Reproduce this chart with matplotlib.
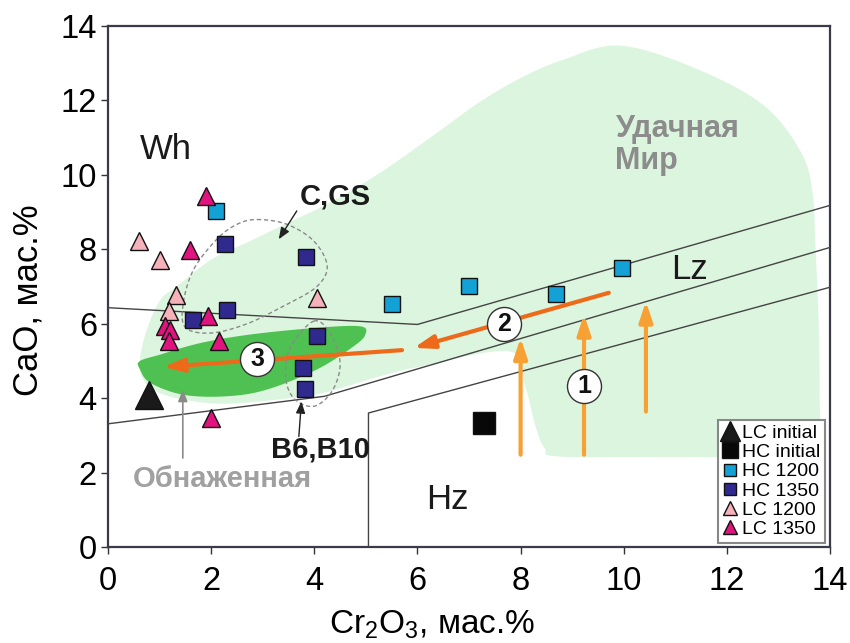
import numpy as np
import matplotlib
matplotlib.use("Agg")
import matplotlib.pyplot as plt
from matplotlib.lines import Line2D
from matplotlib.patches import Polygon

plt.rcParams['font.family'] = ['Liberation Sans', 'DejaVu Sans']
plt.rcParams['mathtext.fontset'] = 'custom'
plt.rcParams['mathtext.rm'] = 'Liberation Sans'
plt.rcParams['mathtext.it'] = 'Liberation Sans:italic'

# ===================== данные (Cr2O3, CaO, мас.%) =====================
hc1200_x = [2.10, 5.50, 7.00, 8.68, 9.97]
hc1200_y = [9.03, 6.52, 7.01, 6.79, 7.50]

hc1350_x = [2.27, 3.84, 2.30, 1.64, 4.05, 3.79, 3.81]
hc1350_y = [8.13, 7.80, 6.38, 6.09, 5.66, 4.80, 4.25]

lc1200_x = [0.61, 1.00, 1.32, 4.06, 1.18]
lc1200_y = [8.22, 7.71, 6.77, 6.70, 6.34]

lc1350_x = [1.90, 1.58, 1.93, 1.10, 1.21, 1.19, 2.15, 1.99]
lc1350_y = [9.43, 7.97, 6.20, 5.93, 5.82, 5.54, 5.54, 3.46]

lc_init = (0.80, 4.08)
hc_init = (7.29, 3.33)

# поля гранатов (контуры)
field_udachnaya = [(1.33, 7.0), (2.0, 7.72), (2.8, 8.25), (3.5, 8.72), (4.3, 9.25),
                   (5.28, 10.06), (6.3, 11.05), (7.2, 11.95), (8.0, 12.6), (8.84, 13.1),
                   (9.94, 13.47), (11.43, 12.84), (12.72, 11.86), (13.44, 10.6),
                   (13.66, 9.52), (13.72, 8.0), (13.78, 6.0), (13.8, 4.0), (13.78, 2.7),
                   (13.55, 2.42), (11.0, 2.42), (8.75, 2.43), (8.47, 2.65), (8.29, 3.24),
                   (8.07, 4.41), (7.77, 5.26), (6.06, 4.85), (5.28, 4.59), (4.2, 4.15),
                   (3.4, 3.98), (2.3, 3.85), (1.5, 3.95), (0.9, 4.2), (0.65, 4.6),
                   (0.62, 5.03), (0.7, 5.6), (0.85, 6.2), (1.05, 6.7)]
field_obnazhennaya = [(0.61, 4.99), (1.01, 5.17), (1.79, 5.48), (2.76, 5.71), (4.05, 5.89),
                      (4.89, 5.93), (4.99, 5.71), (4.76, 5.39), (4.05, 4.77), (3.08, 4.23),
                      (2.3, 4.05), (1.46, 4.09), (0.82, 4.41), (0.62, 4.77)]
ell_cgs = [(2.89, 8.80), (3.47, 8.67), (3.99, 8.22), (4.25, 7.55), (4.05, 7.0),
           (3.47, 6.52), (2.7, 6.0), (2.0, 5.75), (1.5, 5.9), (1.46, 6.56),
           (1.66, 7.46), (2.11, 8.27), (2.50, 8.67)]
ell_b6 = [(3.99, 6.07), (4.3, 5.75), (4.5, 4.95), (4.35, 4.2), (3.99, 3.78),
          (3.6, 4.0), (3.44, 4.6), (3.55, 5.4)]

# границы полей Wh / Lz / Hz
line_wh = ([0, 6.0, 14], [6.43, 5.98, 9.18])
line_lz = ([0, 4.2, 14], [3.31, 4.05, 8.05])
line_hz = ([5.05, 5.05, 14], [0, 3.6, 6.98])

# тренды (стрелки)
trend1_x = [8.0, 9.23, 10.43]
trend1_y0 = [2.48, 2.48, 3.64]
trend1_y1 = [5.62, 6.25, 6.60]
trend2 = [(9.71, 6.83), (5.93, 5.35)]
trend3 = [(5.70, 5.29), (1.07, 4.84)]
marks = [("1", 9.23, 4.33), ("2", 7.68, 5.98), ("3", 2.89, 5.04)]


def smooth_closed(pts, n=16):
    # замкнутый сплайн Катмулла-Рома по опорным точкам
    p = np.asarray(pts, float)
    N = len(p)
    out = []
    for i in range(N):
        p0, p1, p2, p3 = p[i - 1], p[i], p[(i + 1) % N], p[(i + 2) % N]
        for t in np.linspace(0, 1, n, endpoint=False):
            out.append(0.5 * (2 * p1 + (-p0 + p2) * t
                              + (2 * p0 - 5 * p1 + 4 * p2 - p3) * t ** 2
                              + (-p0 + 3 * p1 - 3 * p2 + p3) * t ** 3))
    return np.array(out)


fig = plt.figure(figsize=(8.5, 6.43), dpi=100)
ax = fig.add_axes([0.1271, 0.1493, 0.8494, 0.8103])

ax.add_patch(Polygon(smooth_closed(field_udachnaya), closed=True, fc="#DCF5DE", ec="none", zorder=1))
ax.add_patch(Polygon(smooth_closed(field_obnazhennaya), closed=True, fc="#4FC152", ec="none", zorder=2))

for lx, ly in (line_wh, line_lz, line_hz):
    ax.plot(lx, ly, color="#444444", lw=1.0, zorder=3)

for e in (ell_cgs, ell_b6):
    s = smooth_closed(e)
    s = np.vstack([s, s[:1]])
    ax.plot(s[:, 0], s[:, 1], color="#8a8a8a", lw=1.0, ls=(0, (3, 2)), zorder=3)


def arrow(x0, y0, x1, y1, color, lw, hl, hw, z=4, ms=20):
    ax.annotate("", xy=(x1, y1), xytext=(x0, y0), zorder=z,
                arrowprops=dict(arrowstyle=f"-|>,head_length={hl},head_width={hw}",
                                color=color, lw=lw, shrinkA=0, shrinkB=0,
                                mutation_scale=ms))


for x, y0, y1 in zip(trend1_x, trend1_y0, trend1_y1):
    arrow(x, y0, x, y1, "#F7A135", 3.0, 0.6, 0.2)
for (x0, y0), (x1, y1) in (trend2, trend3):
    arrow(x0, y0, x1, y1, "#EE6A1B", 3.0, 0.6, 0.2)

# подписи с указателями
arrow(3.66, 9.03, 3.31, 8.27, "#222222", 1.0, 0.5, 0.2, z=5, ms=14)
arrow(3.70, 2.97, 3.75, 3.91, "#222222", 1.0, 0.5, 0.2, z=5, ms=14)
arrow(1.45, 2.39, 1.45, 4.23, "#8a8a8a", 1.2, 0.5, 0.2, z=5, ms=14)

# точки
ax.plot(hc1200_x, hc1200_y, "s", ms=12, mfc="#14A2D6", mec="#111111", mew=1, zorder=6)
ax.plot(hc1350_x, hc1350_y, "s", ms=12, mfc="#302A8E", mec="#111111", mew=1, zorder=6)
ax.plot(lc1200_x, lc1200_y, "^", ms=12.5, mfc="#F5B2BB", mec="#111111", mew=1, zorder=6)
ax.plot(lc1350_x, lc1350_y, "^", ms=12.5, mfc="#E0137F", mec="#111111", mew=1, zorder=6)
ax.plot(*lc_init, "^", ms=20, mfc="#1a1a1a", mec="#111111", mew=1, zorder=6)
ax.plot(*hc_init, "s", ms=16, mfc="#080808", mec="#111111", mew=1, zorder=6)

for txt, x, y in marks:
    ax.plot(x, y, "o", ms=24.5, mfc="white", mec="#333333", mew=1, zorder=7)
    ax.text(x, y, txt, fontsize=18, fontweight="bold", ha="center", va="center", color="#111111", zorder=8)

ax.text(1.13, 10.69, "Wh", fontsize=25, ha="center", va="center", color="#1a1a1a")
ax.text(11.28, 7.46, "Lz", fontsize=25, ha="center", va="center", color="#1a1a1a")
ax.text(6.58, 1.27, "Hz", fontsize=25, ha="center", va="center", color="#1a1a1a")
ax.text(9.84, 10.8, "Удачная\nМир", fontsize=22, fontweight="bold", ha="left", va="center",
        color="#8c8c8c", linespacing=1.05)
ax.text(4.41, 9.42, "C,GS", fontsize=21, fontweight="bold", ha="center", va="center", color="#1a1a1a")
ax.text(4.12, 2.61, "B6,B10", fontsize=21, fontweight="bold", ha="center", va="center", color="#1a1a1a")
ax.text(2.21, 1.82, "Обнаженная", fontsize=21, fontweight="bold", ha="center", va="center", color="#a0a0a0")

ax.set_xlim(0, 14)
ax.set_ylim(0, 14)
ax.set_xticks(range(0, 15, 2))
ax.set_yticks(range(0, 15, 2))
ax.tick_params(axis="both", direction="out", length=5, width=1, labelsize=23.5, color="#333333")
ax.tick_params(axis="x", pad=9)
ax.tick_params(axis="y", pad=3)
for sp in ax.spines.values():
    sp.set_linewidth(1.6)
    sp.set_color("#3b3b48")

ax.set_xlabel("Cr$_2$O$_3$, мас.%", fontsize=24, va="center")
ax.xaxis.set_label_coords(0.449, -0.150)
ax.set_ylabel("CaO, мас.%", fontsize=25, va="center")
ax.yaxis.set_label_coords(-0.111, 0.474)

handles = [
    Line2D([], [], ls="none", marker="^", ms=15, mfc="#1a1a1a", mec="#111111"),
    Line2D([], [], ls="none", marker="s", ms=12, mfc="#080808", mec="#111111"),
    Line2D([], [], ls="none", marker="s", ms=8, mfc="#14A2D6", mec="#111111"),
    Line2D([], [], ls="none", marker="s", ms=8, mfc="#302A8E", mec="#111111"),
    Line2D([], [], ls="none", marker="^", ms=10, mfc="#F5B2BB", mec="#111111"),
    Line2D([], [], ls="none", marker="^", ms=10, mfc="#E0137F", mec="#111111"),
]
labels = ["LC initial", "HC initial", "HC 1200", "HC 1350", "LC 1200", "LC 1350"]
leg = ax.legend(handles, labels, loc="lower right", bbox_to_anchor=(0.993, 0.008),
                borderaxespad=0, fontsize=14, labelspacing=0.08, handlelength=0.8,
                handletextpad=0.2, borderpad=0.25, fancybox=False, framealpha=1)
leg.get_frame().set_edgecolor("#888888")
leg.get_frame().set_linewidth(1.5)
leg.set_zorder(10)

plt.savefig("out.png", dpi=100)
